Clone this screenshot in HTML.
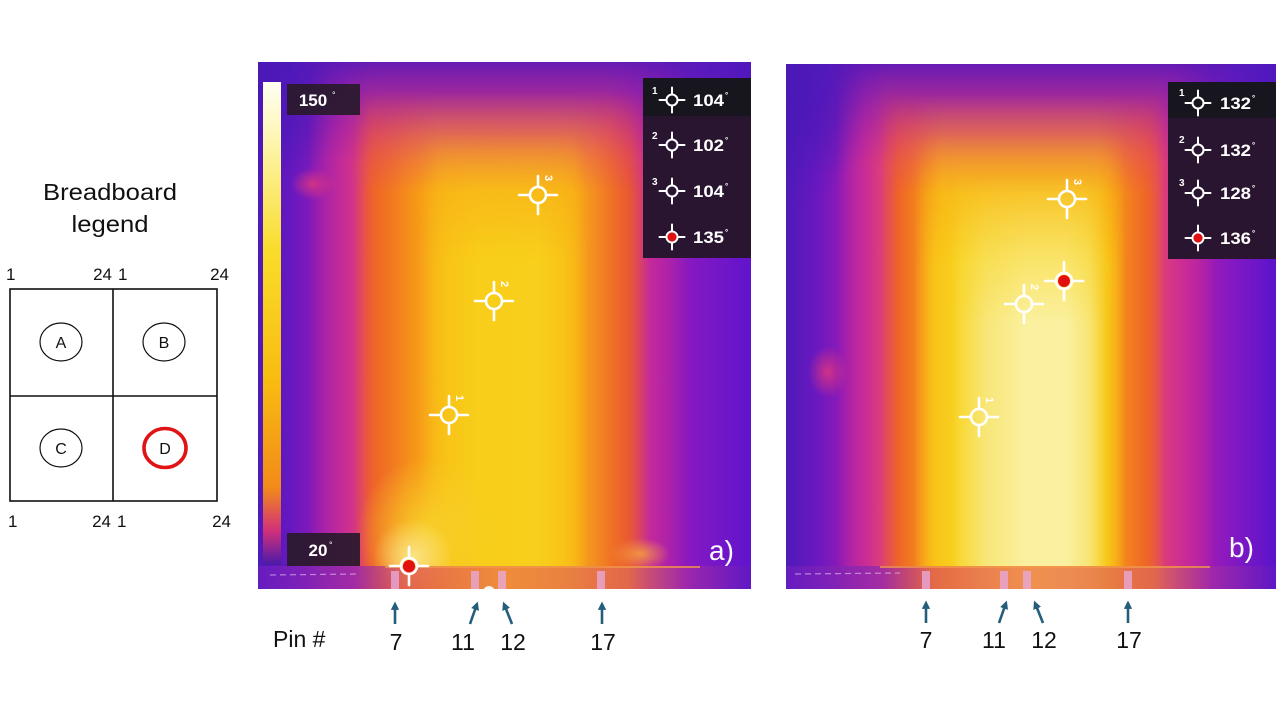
<!DOCTYPE html>
<html><head><meta charset="utf-8"><style>
html,body{margin:0;padding:0;background:#fff;}
svg{display:block;}
text{font-family:"Liberation Sans",sans-serif;}
</style></head><body>
<svg width="1286" height="717" viewBox="0 0 1286 717" xmlns="http://www.w3.org/2000/svg">
<defs>
 <clipPath id="ca"><rect x="0" y="0" width="493" height="527"/></clipPath>
 <clipPath id="cb"><rect x="0" y="0" width="490" height="525"/></clipPath>

 <linearGradient id="aCold" gradientUnits="userSpaceOnUse" x1="0" y1="0" x2="1000" y2="0">
  <stop offset="0" stop-color="#4e1ab8"/><stop offset=".030" stop-color="#6418c0"/>
  <stop offset=".060" stop-color="#8a1ab8"/><stop offset=".090" stop-color="#a81cb0"/>
  <stop offset=".120" stop-color="#bc1eaa"/><stop offset=".362" stop-color="#bc1eaa"/>
  <stop offset=".400" stop-color="#a41cb2"/><stop offset=".440" stop-color="#8018c4"/>
  <stop offset=".493" stop-color="#6014cc"/>
 </linearGradient>
 <linearGradient id="aPink" gradientUnits="userSpaceOnUse" x1="0" y1="0" x2="1000" y2="0">
  <stop offset=".050" stop-color="#d03090" stop-opacity="0"/><stop offset=".085" stop-color="#d03090" stop-opacity=".8"/>
  <stop offset=".110" stop-color="#e04470"/><stop offset=".350" stop-color="#e04470"/>
  <stop offset=".385" stop-color="#d03090" stop-opacity=".8"/><stop offset=".430" stop-color="#d03090" stop-opacity="0"/>
 </linearGradient>
 <linearGradient id="aOr" gradientUnits="userSpaceOnUse" x1="0" y1="0" x2="1000" y2="0">
  <stop offset=".095" stop-color="#ea5830" stop-opacity="0"/><stop offset=".115" stop-color="#ee6428"/>
  <stop offset=".135" stop-color="#f27a20"/><stop offset=".155" stop-color="#f69418"/>
  <stop offset=".180" stop-color="#f8ac16"/><stop offset=".315" stop-color="#f8aa16"/>
  <stop offset=".335" stop-color="#f49020"/><stop offset=".352" stop-color="#f07424"/>
  <stop offset=".370" stop-color="#ea5a30"/><stop offset=".392" stop-color="#ea5a30" stop-opacity="0"/>
 </linearGradient>
 <linearGradient id="aYe" gradientUnits="userSpaceOnUse" x1="0" y1="0" x2="1000" y2="0">
  <stop offset=".160" stop-color="#f8c418" stop-opacity="0"/><stop offset=".190" stop-color="#f8c418"/>
  <stop offset=".220" stop-color="#f8ce1a"/><stop offset=".280" stop-color="#f8cf1c"/>
  <stop offset=".305" stop-color="#f8c418"/><stop offset=".330" stop-color="#f8c418" stop-opacity="0"/>
 </linearGradient>

 <linearGradient id="bCold" gradientUnits="userSpaceOnUse" x1="0" y1="0" x2="1000" y2="0">
  <stop offset="0" stop-color="#4e1ab8"/><stop offset=".030" stop-color="#6a18c0"/>
  <stop offset=".055" stop-color="#8c1ab8"/><stop offset=".080" stop-color="#aa1cb0"/>
  <stop offset=".105" stop-color="#bc1eaa"/><stop offset=".384" stop-color="#bc1eaa"/>
  <stop offset=".415" stop-color="#a41cb2"/><stop offset=".450" stop-color="#8018c4"/>
  <stop offset=".490" stop-color="#5a14cc"/>
 </linearGradient>
 <linearGradient id="bPink" gradientUnits="userSpaceOnUse" x1="0" y1="0" x2="1000" y2="0">
  <stop offset=".050" stop-color="#d03090" stop-opacity="0"/><stop offset=".078" stop-color="#d03090" stop-opacity=".8"/>
  <stop offset=".100" stop-color="#e04470"/><stop offset=".370" stop-color="#e04470"/>
  <stop offset=".398" stop-color="#d03090" stop-opacity=".8"/><stop offset=".430" stop-color="#d03090" stop-opacity="0"/>
 </linearGradient>
 <linearGradient id="bOr" gradientUnits="userSpaceOnUse" x1="0" y1="0" x2="1000" y2="0">
  <stop offset=".095" stop-color="#ea5830" stop-opacity="0"/><stop offset=".112" stop-color="#ee6428"/>
  <stop offset=".126" stop-color="#f27a20"/><stop offset=".140" stop-color="#f69418"/>
  <stop offset=".156" stop-color="#f8ac16"/><stop offset=".312" stop-color="#f8ac16"/>
  <stop offset=".330" stop-color="#f69418"/><stop offset=".346" stop-color="#f27a20"/>
  <stop offset=".362" stop-color="#ee6428"/><stop offset=".380" stop-color="#ee6428" stop-opacity="0"/>
 </linearGradient>
 <linearGradient id="bYe" gradientUnits="userSpaceOnUse" x1="0" y1="0" x2="1000" y2="0">
  <stop offset=".128" stop-color="#f8c418" stop-opacity="0"/><stop offset=".150" stop-color="#f8c418"/>
  <stop offset=".175" stop-color="#f8d420"/><stop offset=".298" stop-color="#f8d420"/>
  <stop offset=".322" stop-color="#f8c418"/><stop offset=".340" stop-color="#f8c418" stop-opacity="0"/>
 </linearGradient>
 <linearGradient id="bPale" gradientUnits="userSpaceOnUse" x1="0" y1="0" x2="1000" y2="0">
  <stop offset=".165" stop-color="#f8e678" stop-opacity="0"/><stop offset=".200" stop-color="#f8e678"/>
  <stop offset=".240" stop-color="#faf0a0"/><stop offset=".280" stop-color="#faf0a0"/>
  <stop offset=".302" stop-color="#f8e678"/><stop offset=".322" stop-color="#f8e678" stop-opacity="0"/>
 </linearGradient>

 <linearGradient id="vP" gradientUnits="userSpaceOnUse" x1="0" y1="0" x2="0" y2="1000">
  <stop offset="0" stop-color="#000"/><stop offset=".10" stop-color="#fff"/>
 </linearGradient>
 <linearGradient id="vO" gradientUnits="userSpaceOnUse" x1="0" y1="0" x2="0" y2="1000">
  <stop offset=".030" stop-color="#000"/><stop offset=".130" stop-color="#fff"/>
 </linearGradient>
 <linearGradient id="vY" gradientUnits="userSpaceOnUse" x1="0" y1="0" x2="0" y2="1000">
  <stop offset=".070" stop-color="#000"/><stop offset=".200" stop-color="#fff"/>
 </linearGradient>
 <linearGradient id="vPl" gradientUnits="userSpaceOnUse" x1="0" y1="0" x2="0" y2="1000">
  <stop offset=".110" stop-color="#000"/><stop offset=".260" stop-color="#fff"/>
 </linearGradient>
 <linearGradient id="topShade" gradientUnits="userSpaceOnUse" x1="0" y1="0" x2="0" y2="1000">
  <stop offset="0" stop-color="#4a1ab8" stop-opacity=".75"/><stop offset=".11" stop-color="#4a1ab8" stop-opacity="0"/>
 </linearGradient>
 <mask id="mP" maskUnits="userSpaceOnUse" x="0" y="0" width="500" height="530"><rect width="500" height="530" fill="url(#vP)"/></mask>
 <mask id="mO" maskUnits="userSpaceOnUse" x="0" y="0" width="500" height="530"><rect width="500" height="530" fill="url(#vO)"/></mask>
 <mask id="mY" maskUnits="userSpaceOnUse" x="0" y="0" width="500" height="530"><rect width="500" height="530" fill="url(#vY)"/></mask>
 <mask id="mPl" maskUnits="userSpaceOnUse" x="0" y="0" width="500" height="530"><rect width="500" height="530" fill="url(#vPl)"/></mask>

 <radialGradient id="rYe"><stop offset="0" stop-color="#f8d02a" stop-opacity=".95"/><stop offset="1" stop-color="#f8d02a" stop-opacity="0"/></radialGradient>
 <radialGradient id="rPale"><stop offset="0" stop-color="#fbea92" stop-opacity=".9"/><stop offset="1" stop-color="#fbea92" stop-opacity="0"/></radialGradient>
 <radialGradient id="rOr"><stop offset="0" stop-color="#f49a40" stop-opacity=".9"/><stop offset="1" stop-color="#f49a40" stop-opacity="0"/></radialGradient>
 <radialGradient id="rPk"><stop offset="0" stop-color="#d83482" stop-opacity=".9"/><stop offset="1" stop-color="#d83482" stop-opacity="0"/></radialGradient>
 <radialGradient id="rBl"><stop offset="0" stop-color="#4a18b8" stop-opacity=".8"/><stop offset="1" stop-color="#4a18b8" stop-opacity="0"/></radialGradient>

 <linearGradient id="cbar" x1="0" y1="0" x2="0" y2="1">
  <stop offset="0" stop-color="#fffff4"/>
  <stop offset="0.12" stop-color="#fdf6b0"/>
  <stop offset="0.35" stop-color="#f9dc2a"/>
  <stop offset="0.62" stop-color="#f8bc10"/>
  <stop offset="0.84" stop-color="#f38a1a"/>
  <stop offset="0.93" stop-color="#d0307a"/>
  <stop offset="1" stop-color="#4a1aa8"/>
 </linearGradient>
 <linearGradient id="strip" x1="0" y1="0" x2="1" y2="0">
  <stop offset="0" stop-color="#6a1cc0"/>
  <stop offset="0.2" stop-color="#9a2aa8"/>
  <stop offset="0.3" stop-color="#e05a50"/>
  <stop offset="0.5" stop-color="#ee8040"/>
  <stop offset="0.75" stop-color="#e06a50"/>
  <stop offset="0.87" stop-color="#a02aa8"/>
  <stop offset="1" stop-color="#6018c4"/>
 </linearGradient>
 <g id="xh" stroke="#fff" stroke-width="2.6" fill="none" stroke-linecap="round">
  <circle r="8"/>
  <line x1="-19" y1="0" x2="-9" y2="0"/>
  <line x1="9" y1="0" x2="19" y2="0"/>
  <line x1="0" y1="-19" x2="0" y2="-9"/>
  <line x1="0" y1="9" x2="0" y2="19"/>
 </g>
 <g id="xs" stroke="#fff" stroke-width="2" fill="none" stroke-linecap="round">
  <circle r="5.5"/>
  <line x1="-12.5" y1="0" x2="-6.5" y2="0"/>
  <line x1="6.5" y1="0" x2="12.5" y2="0"/>
  <line x1="0" y1="-12.5" x2="0" y2="-6.5"/>
  <line x1="0" y1="6.5" x2="0" y2="12.5"/>
 </g>
 <marker id="ah" viewBox="0 0 10 10" refX="7" refY="5" markerWidth="3.2" markerHeight="3.2" orient="auto">
  <path d="M0,0 L10,5 L0,10 z" fill="#245e7c"/>
 </marker>
</defs>

<!-- ============ Breadboard legend ============ -->
<text x="110" y="200" font-size="23" text-anchor="middle" fill="#111" textLength="134" lengthAdjust="spacingAndGlyphs">Breadboard</text>
<text x="110" y="232" font-size="23" text-anchor="middle" fill="#111" textLength="77" lengthAdjust="spacingAndGlyphs">legend</text>
<g font-size="17" fill="#111">
 <text x="6" y="280">1</text>
 <text x="112" y="280" text-anchor="end">24</text>
 <text x="118" y="280">1</text>
 <text x="229" y="280" text-anchor="end">24</text>
 <text x="8" y="527">1</text>
 <text x="111" y="527" text-anchor="end">24</text>
 <text x="117" y="527">1</text>
 <text x="231" y="527" text-anchor="end">24</text>
</g>
<g stroke="#111" stroke-width="1.6" fill="none">
 <rect x="10" y="289" width="207" height="212"/>
 <line x1="113" y1="289" x2="113" y2="501"/>
 <line x1="10" y1="396" x2="217" y2="396"/>
 <ellipse cx="61" cy="342" rx="21" ry="19" stroke-width="1.2"/>
 <ellipse cx="164" cy="342" rx="21" ry="19" stroke-width="1.2"/>
 <ellipse cx="61" cy="448" rx="21" ry="19" stroke-width="1.2"/>
 <ellipse cx="165" cy="448" rx="21" ry="19.5" stroke="#e01414" stroke-width="3.6"/>
</g>
<g font-size="16" fill="#111" text-anchor="middle">
 <text x="61" y="348">A</text>
 <text x="164" y="348">B</text>
 <text x="61" y="454">C</text>
 <text x="165" y="454">D</text>
</g>

<!-- ============ Thermal image a ============ -->
<g transform="translate(258,62)">
 <g clip-path="url(#ca)">
  <rect width="493" height="527" fill="url(#aCold)"/>
  <rect width="493" height="527" fill="url(#topShade)"/>
  <ellipse cx="10" cy="40" rx="70" ry="90" fill="url(#rBl)"/>
  <rect width="493" height="527" fill="url(#aPink)" mask="url(#mP)"/>
  <ellipse cx="55" cy="122" rx="22" ry="16" fill="url(#rPk)"/>
  <rect width="493" height="527" fill="url(#aOr)" mask="url(#mO)"/>
  <rect width="493" height="527" fill="url(#aYe)" mask="url(#mY)"/>
  <ellipse cx="170" cy="470" rx="70" ry="75" fill="url(#rYe)"/>
  <ellipse cx="155" cy="495" rx="40" ry="38" fill="url(#rPale)"/>
  <ellipse cx="382" cy="492" rx="30" ry="16" fill="url(#rOr)"/>
  <rect x="0" y="504" width="493" height="23" fill="url(#strip)" opacity="0.85"/>
  <line x1="127" y1="505" x2="442" y2="505" stroke="#f39848" stroke-width="1.5"/>
  <line x1="12" y1="513" x2="102" y2="512" stroke="#e8c8f0" stroke-width="1.2" stroke-dasharray="6 4" opacity="0.6"/>
  <g fill="#e8a8d8" opacity="0.8">
   <rect x="133" y="509" width="8" height="18"/>
   <rect x="213" y="509" width="8" height="18"/>
   <rect x="240" y="509" width="8" height="18"/>
   <rect x="339" y="509" width="8" height="18"/>
  </g>
  <circle cx="231" cy="530" r="6" fill="#f4f4f4"/>
 </g>
</g>
<!-- colour bar & labels -->
<rect x="263" y="82" width="18" height="483" fill="url(#cbar)"/>
<rect x="287" y="84" width="73" height="31" fill="#2a1a2e" opacity="0.94"/>
<text x="313" y="106" font-size="17" font-weight="bold" fill="#fff" text-anchor="middle">150</text>
<text x="332" y="98" font-size="9" fill="#fff">°</text>
<rect x="287" y="533" width="73" height="33" fill="#2a1a2e" opacity="0.94"/>
<text x="318" y="556" font-size="17" font-weight="bold" fill="#fff" text-anchor="middle">20</text>
<text x="329" y="548" font-size="9" fill="#fff">°</text>
<!-- markers a -->
<use href="#xh" x="538" y="195"/>
<text transform="translate(545,175) rotate(90)" font-size="11" font-weight="bold" fill="#fff">3</text>
<use href="#xh" x="494" y="301"/>
<text transform="translate(501,281) rotate(90)" font-size="11" font-weight="bold" fill="#fff">2</text>
<use href="#xh" x="449" y="415"/>
<text transform="translate(456,395) rotate(90)" font-size="11" font-weight="bold" fill="#fff">1</text>
<use href="#xh" x="409" y="566"/>
<circle cx="409" cy="566" r="6" fill="#e31010"/>
<!-- legend a -->
<rect x="643" y="78" width="108" height="180" fill="#2a1530"/>
<rect x="643" y="78" width="108" height="38" fill="#17161f"/>
<g fill="#fff" font-weight="bold">
 <use href="#xs" x="672" y="100"/>
 <text x="652" y="94" font-size="10">1</text>
 <text x="693" y="106" font-size="17" textLength="31" lengthAdjust="spacingAndGlyphs">104</text>
 <text x="725" y="98" font-size="8">°</text>
 <use href="#xs" x="672" y="145"/>
 <text x="652" y="139" font-size="10">2</text>
 <text x="693" y="151" font-size="17" textLength="31" lengthAdjust="spacingAndGlyphs">102</text>
 <text x="725" y="143" font-size="8">°</text>
 <use href="#xs" x="672" y="191"/>
 <text x="652" y="185" font-size="10">3</text>
 <text x="693" y="197" font-size="17" textLength="31" lengthAdjust="spacingAndGlyphs">104</text>
 <text x="725" y="189" font-size="8">°</text>
 <use href="#xs" x="672" y="237"/>
 <circle cx="672" cy="237" r="4.5" fill="#e31010"/>
 <text x="693" y="243" font-size="17" textLength="31" lengthAdjust="spacingAndGlyphs">135</text>
 <text x="725" y="235" font-size="8">°</text>
</g>
<text x="709" y="560" font-size="28" fill="#fff">a)</text>

<!-- ============ Thermal image b ============ -->
<g transform="translate(786,64)">
 <g clip-path="url(#cb)">
  <rect width="490" height="525" fill="url(#bCold)"/>
  <rect width="490" height="525" fill="url(#topShade)"/>
  <ellipse cx="10" cy="40" rx="70" ry="100" fill="url(#rBl)"/>
  <rect width="490" height="525" fill="url(#bPink)" mask="url(#mP)"/>
  <ellipse cx="42" cy="308" rx="20" ry="26" fill="url(#rPk)"/>
  <rect width="490" height="525" fill="url(#bOr)" mask="url(#mO)"/>
  <rect width="490" height="525" fill="url(#bYe)" mask="url(#mY)"/>
  <rect width="490" height="525" fill="url(#bPale)" mask="url(#mPl)"/>
  <rect x="0" y="502" width="490" height="23" fill="url(#strip)" opacity="0.85"/>
  <line x1="94" y1="503" x2="424" y2="503" stroke="#f39848" stroke-width="1.5"/>
  <line x1="9" y1="510" x2="114" y2="509" stroke="#e8c8f0" stroke-width="1.2" stroke-dasharray="6 4" opacity="0.6"/>
  <g fill="#e8a8d8" opacity="0.8">
   <rect x="136" y="507" width="8" height="18"/>
   <rect x="214" y="507" width="8" height="18"/>
   <rect x="237" y="507" width="8" height="18"/>
   <rect x="338" y="507" width="8" height="18"/>
  </g>
 </g>
</g>
<!-- markers b -->
<use href="#xh" x="1067" y="199"/>
<text transform="translate(1074,179) rotate(90)" font-size="11" font-weight="bold" fill="#fff">3</text>
<use href="#xh" x="1024" y="304"/>
<text transform="translate(1031,284) rotate(90)" font-size="11" font-weight="bold" fill="#fff">2</text>
<use href="#xh" x="979" y="417"/>
<text transform="translate(986,397) rotate(90)" font-size="11" font-weight="bold" fill="#fff">1</text>
<use href="#xh" x="1064" y="281"/>
<circle cx="1064" cy="281" r="6" fill="#e31010"/>
<!-- legend b -->
<rect x="1168" y="82" width="108" height="177" fill="#2a1530"/>
<rect x="1168" y="82" width="108" height="36" fill="#17161f"/>
<g fill="#fff" font-weight="bold">
 <use href="#xs" x="1198" y="103"/>
 <text x="1179" y="96" font-size="10">1</text>
 <text x="1220" y="109" font-size="17" textLength="31" lengthAdjust="spacingAndGlyphs">132</text>
 <text x="1252" y="101" font-size="8">°</text>
 <use href="#xs" x="1198" y="150"/>
 <text x="1179" y="143" font-size="10">2</text>
 <text x="1220" y="156" font-size="17" textLength="31" lengthAdjust="spacingAndGlyphs">132</text>
 <text x="1252" y="148" font-size="8">°</text>
 <use href="#xs" x="1198" y="193"/>
 <text x="1179" y="186" font-size="10">3</text>
 <text x="1220" y="199" font-size="17" textLength="31" lengthAdjust="spacingAndGlyphs">128</text>
 <text x="1252" y="191" font-size="8">°</text>
 <use href="#xs" x="1198" y="238"/>
 <circle cx="1198" cy="238" r="4.5" fill="#e31010"/>
 <text x="1220" y="244" font-size="17" textLength="31" lengthAdjust="spacingAndGlyphs">136</text>
 <text x="1252" y="236" font-size="8">°</text>
</g>
<text x="1229" y="557" font-size="28" fill="#fff">b)</text>

<!-- ============ Pins ============ -->
<g stroke="#245e7c" stroke-width="2.6" marker-end="url(#ah)">
 <line x1="395" y1="624" x2="395" y2="604"/>
 <line x1="470" y1="624" x2="477" y2="604"/>
 <line x1="512" y1="624" x2="504" y2="604"/>
 <line x1="602" y1="624" x2="602" y2="604"/>
 <line x1="926" y1="623" x2="926" y2="603"/>
 <line x1="999" y1="623" x2="1006" y2="603"/>
 <line x1="1043" y1="623" x2="1035" y2="603"/>
 <line x1="1128" y1="623" x2="1128" y2="603"/>
</g>
<g font-size="23" fill="#111" text-anchor="middle">
 <text x="273" y="647" text-anchor="start">Pin #</text>
 <text x="396" y="650">7</text>
 <text x="463" y="650">11</text>
 <text x="513" y="650">12</text>
 <text x="603" y="650">17</text>
 <text x="926" y="648">7</text>
 <text x="994" y="648">11</text>
 <text x="1044" y="648">12</text>
 <text x="1129" y="648">17</text>
</g>
</svg>
</body></html>
